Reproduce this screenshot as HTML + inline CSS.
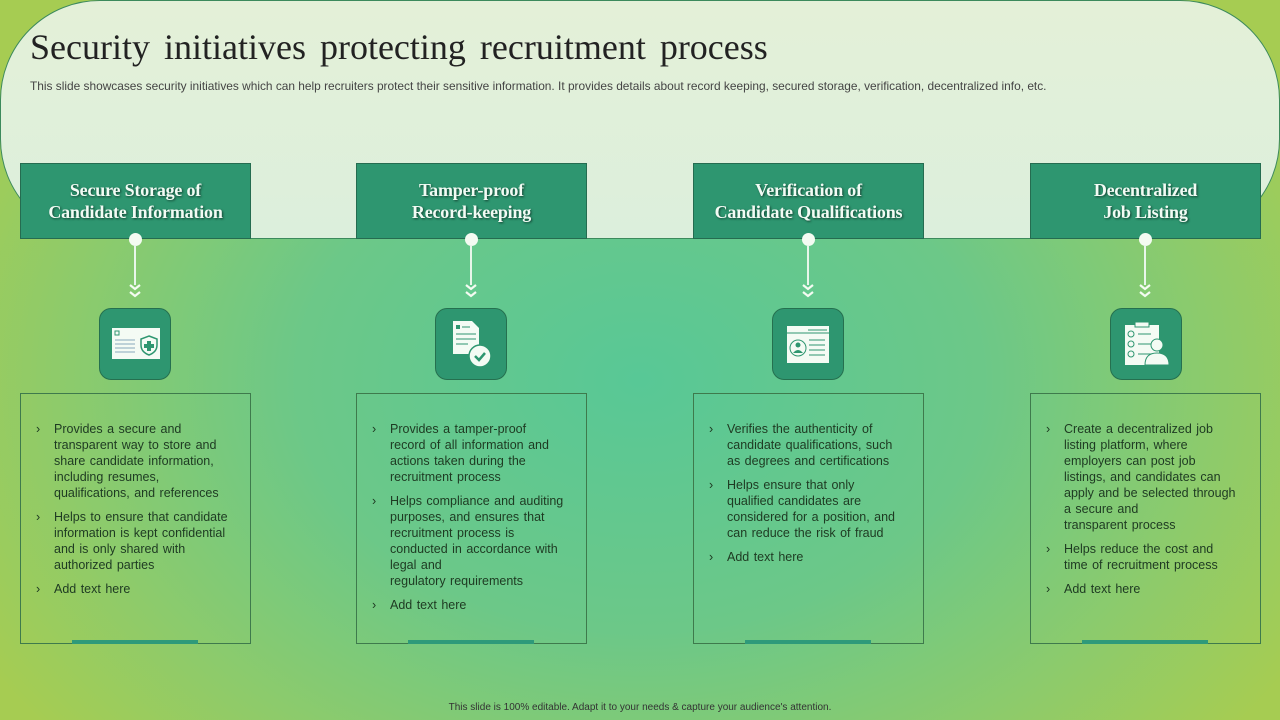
<!DOCTYPE html>
<html><head><meta charset="utf-8"><style>
*{margin:0;padding:0;box-sizing:border-box}
body{width:1280px;height:720px;overflow:hidden;position:relative;font-family:"Liberation Sans",sans-serif;
background:radial-gradient(ellipse 760px 560px at 640px 380px,#58c896 0%,#6cc888 45%,#8ccb6c 75%,#a6cc52 100%);}
.top{position:absolute;left:0;top:0;width:1280px;height:239px;border-radius:100px;border:1px solid #3c8a5c;
background:linear-gradient(180deg,#e4f0d8,#dcefdc);}
h1{position:absolute;left:30px;top:26px;font-family:"Liberation Serif",serif;font-weight:normal;font-size:36px;color:#222;word-spacing:5px;white-space:nowrap}
.sub{position:absolute;left:30px;top:79px;font-size:11.9px;color:#444;white-space:nowrap;letter-spacing:0}
.hd{position:absolute;top:163px;width:231px;height:76px;background:#2e9670;border:1px solid #256c50;color:#f2fbf4;
font-family:"Liberation Serif",serif;font-weight:bold;font-size:18px;line-height:22px;text-align:center;padding-top:15px;text-shadow:1px 1px 2px #134030;letter-spacing:-0.2px}
.dot{position:absolute;top:233px;width:13px;height:13px;border-radius:50%;background:#f4fbf2}
.ln{position:absolute;top:245px;width:2px;height:40px;background:#e8f6ea}
.chev{position:absolute;top:283px}
.ic{position:absolute;top:308px;width:72px;height:72px;border-radius:12px;background:#2e9670;border:1px solid #25704f}
.tb{position:absolute;top:393px;width:231px;height:251px;border:1px solid #3e7a4c}
.tb ul{list-style:none;padding:27px 14px 0 33px;font-size:12.5px;line-height:16px;color:#1e3a22;word-spacing:1px}
.tb li{position:relative;margin-bottom:8px}
.tb li:before{content:"›";position:absolute;left:-18px;top:0}
.bar{position:absolute;top:640px;width:126px;height:4px;background:#2e9a7a}
.foot{position:absolute;left:0;width:1280px;top:702px;text-align:center;font-size:10px;color:#333}
</style></head><body>
<div class="top"></div>
<h1>Security initiatives protecting recruitment process</h1>
<div class="sub">This slide showcases security initiatives which can help recruiters protect their sensitive information. It provides details about record keeping, secured storage, verification, decentralized info, etc.</div>

<div class="hd" style="left:20px">Secure Storage of<br>Candidate Information</div>
<div class="hd" style="left:356px">Tamper-proof<br>Record-keeping</div>
<div class="hd" style="left:693px">Verification of<br>Candidate Qualifications</div>
<div class="hd" style="left:1030px">Decentralized<br>Job Listing</div>

<div class="dot" style="left:129px"></div><div class="ln" style="left:134px"></div>
<div class="dot" style="left:465px"></div><div class="ln" style="left:470px"></div>
<div class="dot" style="left:802px"></div><div class="ln" style="left:807px"></div>
<div class="dot" style="left:1139px"></div><div class="ln" style="left:1144px"></div>
<svg class="chev" style="left:129px" width="12" height="16"><path d="M1 2l5 4 5-4M1 9l5 4 5-4" fill="none" stroke="#f4fbf2" stroke-width="2.2"/></svg>
<svg class="chev" style="left:465px" width="12" height="16"><path d="M1 2l5 4 5-4M1 9l5 4 5-4" fill="none" stroke="#f4fbf2" stroke-width="2.2"/></svg>
<svg class="chev" style="left:802px" width="12" height="16"><path d="M1 2l5 4 5-4M1 9l5 4 5-4" fill="none" stroke="#f4fbf2" stroke-width="2.2"/></svg>
<svg class="chev" style="left:1139px" width="12" height="16"><path d="M1 2l5 4 5-4M1 9l5 4 5-4" fill="none" stroke="#f4fbf2" stroke-width="2.2"/></svg>

<div class="ic" style="left:99px"><svg width="72" height="72"><rect x="12" y="19" width="48" height="31" fill="#f4fbf4"/><rect x="15" y="22" width="4" height="4" fill="none" stroke="#2e9670"/><g stroke="#8ab" stroke-width="1"><line x1="15" y1="31" x2="35" y2="31"/><line x1="15" y1="35" x2="35" y2="35"/><line x1="15" y1="39" x2="35" y2="39"/><line x1="15" y1="43" x2="35" y2="43"/></g><path d="M49 27 l8 3 v6 q0 7 -8 10 q-8 -3 -8 -10 v-6z" fill="none" stroke="#2e9670" stroke-width="1.5"/><path d="M47 32h4v3h3v4h-3v3h-4v-3h-3v-4h3z" fill="#2e9670"/></svg></div>
<div class="ic" style="left:435px"><svg width="72" height="72"><path d="M17 12h19l7 7v26h-26z" fill="#f4fbf4"/><rect x="20" y="16" width="4" height="4" fill="#2e9670"/><g stroke="#2e9670"><line x1="26" y1="18" x2="34" y2="18"/><line x1="20" y1="25" x2="40" y2="25"/><line x1="20" y1="30" x2="40" y2="30"/><line x1="20" y1="35" x2="32" y2="35"/></g><circle cx="44" cy="47" r="11" fill="#f4fbf4" stroke="#2e9670" stroke-width="1.5"/><path d="M39 47l4 4 6-7" fill="none" stroke="#2e9670" stroke-width="2.5"/></svg></div>
<div class="ic" style="left:772px"><svg width="72" height="72"><rect x="14" y="17" width="42" height="37" fill="#f4fbf4"/><g stroke="#2e9670"><line x1="14" y1="24" x2="56" y2="24"/><line x1="35" y1="21" x2="54" y2="21"/><line x1="36" y1="31" x2="52" y2="31"/><line x1="36" y1="36" x2="52" y2="36"/><line x1="36" y1="41" x2="52" y2="41"/><line x1="36" y1="46" x2="52" y2="46"/></g><circle cx="25" cy="39" r="8" fill="none" stroke="#2e9670"/><circle cx="25" cy="36" r="2.5" fill="#2e9670"/><path d="M20 44q5-6 10 0z" fill="#2e9670"/></svg></div>
<div class="ic" style="left:1110px"><svg width="72" height="72"><rect x="14" y="16" width="34" height="40" fill="#f4fbf4"/><rect x="24" y="13" width="14" height="5" fill="#f4fbf4" stroke="#2e9670"/><g stroke="#2e9670" fill="none"><circle cx="20" cy="25" r="3"/><circle cx="20" cy="35" r="3"/><circle cx="20" cy="45" r="3"/><line x1="27" y1="25" x2="40" y2="25"/><line x1="27" y1="35" x2="40" y2="35"/><line x1="27" y1="45" x2="40" y2="45"/></g><circle cx="46" cy="36" r="6" fill="#f4fbf4" stroke="#2e9670"/><path d="M34 56q0-12 12-12t12 12z" fill="#f4fbf4" stroke="#2e9670"/></svg></div>

<div class="tb" style="left:20px"><ul><li>Provides a secure and<br>transparent way to store and share candidate information, including resumes,<br>qualifications, and references</li><li>Helps to ensure that candidate information is kept confidential and is only shared with<br>authorized parties</li><li>Add text here</li></ul></div>
<div class="tb" style="left:356px"><ul><li>Provides a tamper-proof<br>record of all information and actions taken during the<br>recruitment process</li><li>Helps compliance and auditing purposes, and ensures that<br>recruitment process is<br>conducted in accordance with legal and<br>regulatory requirements</li><li>Add text here</li></ul></div>
<div class="tb" style="left:693px"><ul><li>Verifies the authenticity of<br>candidate qualifications, such as degrees and certifications</li><li>Helps ensure that only<br>qualified candidates are<br>considered for a position, and can reduce the risk of fraud</li><li>Add text here</li></ul></div>
<div class="tb" style="left:1030px"><ul><li>Create a decentralized job<br>listing platform, where<br>employers can post job<br>listings, and candidates can apply and be selected through a secure and<br>transparent process</li><li>Helps reduce the cost and<br>time of recruitment process</li><li>Add text here</li></ul></div>

<div class="bar" style="left:72px"></div><div class="bar" style="left:408px"></div><div class="bar" style="left:745px"></div><div class="bar" style="left:1082px"></div>
<div class="foot">This slide is 100% editable. Adapt it to your needs &amp; capture your audience's attention.</div>
</body></html>
